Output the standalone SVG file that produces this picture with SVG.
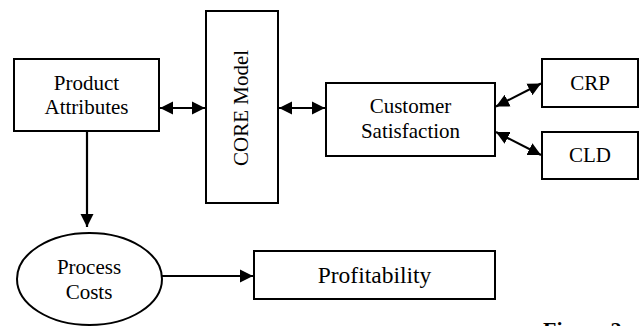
<svg xmlns="http://www.w3.org/2000/svg" width="639" height="326" viewBox="0 0 639 326">
<style>
.box{fill:#fff;stroke:#000;stroke-width:2}
.t{font-size:21px;fill:#000;text-anchor:middle}
.big{font-size:23.5px}
.c{stroke:#000;stroke-width:2.2;fill:none}
</style>
<defs>
<marker id="ah" markerUnits="userSpaceOnUse" markerWidth="14" markerHeight="14" viewBox="0 0 14 14" refX="13" refY="7" orient="auto-start-reverse">
<path d="M0,0.5 L13,7 L0,13.5 z" fill="#000"/>
</marker>
</defs>
<rect width="639" height="326" fill="#fff"/>
<g id="connectors">
<line class="c" x1="160" y1="108" x2="205" y2="108" marker-start="url(#ah)" marker-end="url(#ah)"/>
<line class="c" x1="279" y1="108" x2="325" y2="108" marker-start="url(#ah)" marker-end="url(#ah)"/>
<line class="c" x1="496" y1="106.5" x2="541" y2="83.5" marker-start="url(#ah)" marker-end="url(#ah)"/>
<line class="c" x1="496" y1="132" x2="541" y2="155" marker-start="url(#ah)" marker-end="url(#ah)"/>
<line class="c" x1="87" y1="131" x2="87" y2="227" marker-end="url(#ah)"/>
<line class="c" x1="157" y1="276" x2="253" y2="276" marker-end="url(#ah)"/>
</g>
<g font-family="Liberation Serif, Times New Roman, serif">
<g id="product-attributes">
<rect class="box" x="14" y="59" width="145" height="72"/>
<text class="t" x="86.5" y="90">Product</text>
<text class="t" x="86.5" y="114">Attributes</text>
</g>
<g id="core-model">
<rect class="box" x="206" y="11" width="72" height="192"/>
<text class="t" transform="translate(248,108) rotate(-90)">CORE Model</text>
</g>
<g id="customer-satisfaction">
<rect class="box" x="326" y="83" width="169" height="73"/>
<text class="t" x="410.5" y="113">Customer</text>
<text class="t" x="410.5" y="138">Satisfaction</text>
</g>
<g id="crp">
<rect class="box" x="542" y="59" width="96" height="48"/>
<text class="t" x="590" y="90">CRP</text>
</g>
<g id="cld">
<rect class="box" x="542" y="132" width="96" height="47"/>
<text class="t" x="590" y="162">CLD</text>
</g>
<g id="process-costs">
<ellipse cx="89.5" cy="279" rx="72.5" ry="46" fill="#fff" stroke="#000" stroke-width="2"/>
<text class="t" x="89" y="274">Process</text>
<text class="t" x="89" y="299">Costs</text>
</g>
<g id="profitability">
<rect class="box" x="254" y="251" width="241" height="48"/>
<text class="t big" x="374.5" y="283">Profitability</text>
</g>
<text x="543" y="337" font-size="22" font-weight="bold">Figure 2</text>
</g>
</svg>
